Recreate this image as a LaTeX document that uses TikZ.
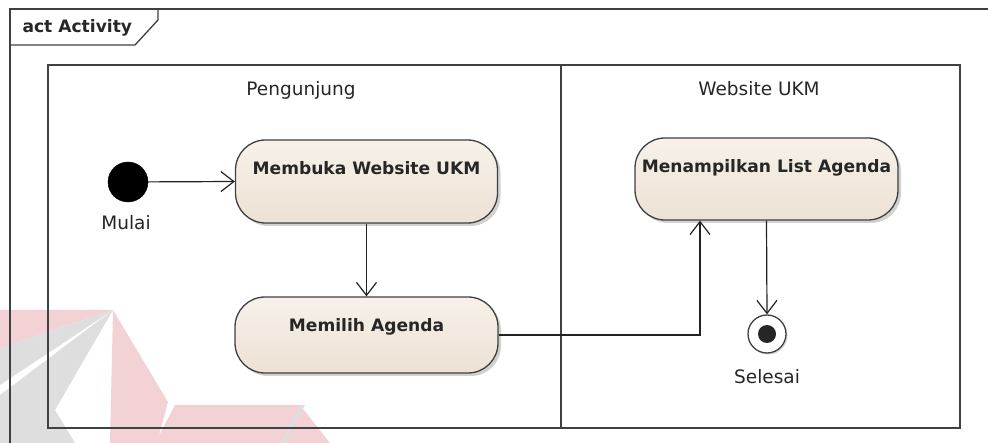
\documentclass[tikz,border=0pt]{standalone}
\usepackage{fontspec}
\setmainfont{DejaVu Sans}
\usetikzlibrary{arrows.meta,shadows,calc}
\definecolor{linec}{HTML}{222222}
\definecolor{framec}{HTML}{404040}
\definecolor{txtc}{HTML}{262626}
\definecolor{acttop}{HTML}{F7F1E9}
\definecolor{actbot}{HTML}{ECE2D4}
\definecolor{wmpink}{HTML}{F3D2D6}
\definecolor{wmgray}{HTML}{DEDEDE}
\tikzset{
  actbox/.style={draw=framec, line width=1.3pt, rounded corners=30pt,
    top color=acttop, bottom color=actbot, inner sep=0pt,
    drop shadow={shadow xshift=3pt, shadow yshift=-3pt, fill=black!40, opacity=0.45}},
  acttext/.style={font=\fontsize{17.1}{19}\selectfont\bfseries, text=txtc},
  plain/.style={font=\fontsize{18.5}{20}\selectfont, text=txtc, inner sep=0pt},
  flow/.style={draw=linec, line width=1.2pt, -{Straight Barb[length=13pt,width=20pt]}},
  frameline/.style={draw=framec, line width=1.3pt}
}
\begin{document}
\begin{tikzpicture}[x=1pt,y=-1pt]
\useasboundingbox (0,0) rectangle (988,443);
\clip (0,0) rectangle (988,443);
% watermark
\fill[wmpink] (0,310) -- (113,310) -- (0,348) -- cycle;
\fill[wmgray] (0,348) -- (113,310) -- (0,385) -- cycle;
\fill[wmgray] (113,310) -- (55,410) -- (75,443) -- (0,443) -- (0,395) -- cycle;
\fill[wmpink] (113,310) -- (168,402) -- (157,443) -- (110,443) -- cycle;
\fill[wmpink] (175,405) -- (300,405) -- (330,443) -- (155,443) -- cycle;
\fill[wmgray] (300,405) -- (305,405) -- (285,443) -- (280,443) -- cycle;
% outer frame
\draw[frameline] (10,460) -- (10,9) -- (1000,9);
\draw[frameline] (10,45) -- (135,45) -- (158,20) -- (158,9);
\node[acttext, anchor=west] (title) at (19,28) {act Activity};
% lanes
\draw[frameline] (48,65) rectangle (960,428);
\draw[frameline] (561,65) -- (561,428);
\node[plain] (lane1) at (301,90) {Pengunjung};
\node[plain] (lane2) at (759,89) {Website UKM};
% nodes
\node[circle, fill=black, draw=black, minimum size=40pt, inner sep=0pt] (init) at (128,182) {};
\node[plain] (mulai) at (126,223) {Mulai};
\node[actbox, minimum width=262pt, minimum height=83pt,
  label={[acttext, yshift=13.5pt]center:Membuka Website UKM}] (membuka) at (366.5,181.5) {};
\node[actbox, minimum width=263pt, minimum height=76pt,
  label={[acttext, yshift=8pt]center:Memilih Agenda}] (memilih) at (366.5,335) {};
\node[actbox, minimum width=263pt, minimum height=82pt,
  label={[acttext, yshift=11pt]center:Menampilkan List Agenda}] (tampil) at (766.5,179) {};
\node[circle, draw=framec, line width=1.3pt, fill=white, minimum size=38pt, inner sep=0pt,
  drop shadow={shadow xshift=1.5pt, shadow yshift=-1.5pt, fill=black!40, opacity=0.4}] (final) at (767,334) {};
\fill[black!85] (final.center) circle (9pt);
\node[plain] (selesai) at (767,377) {Selesai};
% flows
\draw[flow] (init) -- (membuka.west);
\draw[flow] (membuka.south) -- (memilih.north);
\draw[flow] (memilih.east) -| ($(tampil.south)+(-66.5,0)$);
\draw[flow] (tampil.south) -- (final.north);
\end{tikzpicture}
\end{document}
